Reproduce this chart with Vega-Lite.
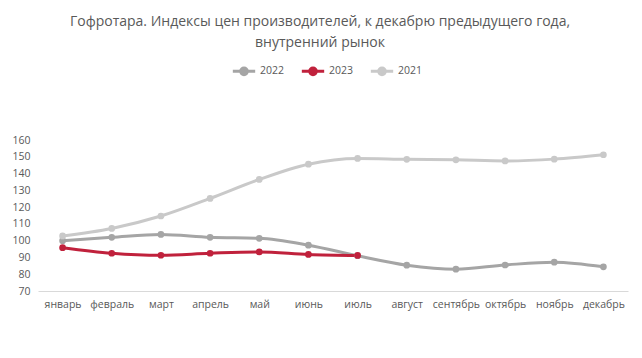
{
  "$schema": "https://vega.github.io/schema/vega-lite/v6.json",
  "width": 590,
  "height": 151,
  "autosize": {"type": "none"},
  "padding": {"left": 38, "top": 140, "right": 14, "bottom": 67},
  "background": "white",
  "config": {"view": {"stroke": null}},
  "title": {
    "text": ["Гофротара.  Индексы цен производителей, к декабрю предыдущего года,", "внутренний рынок"],
    "anchor": "middle",
    "frame": "group",
    "dx": -13,
    "offset": 8,
    "font": "Open Sans",
    "fontSize": 14,
    "fontWeight": "normal",
    "color": "#595959",
    "lineHeight": 21
  },
  "data": {
    "values": [
      {"month": "январь", "year": "2022", "value": 100.0},
      {"month": "февраль", "year": "2022", "value": 102.0},
      {"month": "март", "year": "2022", "value": 103.7},
      {"month": "апрель", "year": "2022", "value": 102.0},
      {"month": "май", "year": "2022", "value": 101.4},
      {"month": "июнь", "year": "2022", "value": 97.3},
      {"month": "июль", "year": "2022", "value": 91.0},
      {"month": "август", "year": "2022", "value": 85.4},
      {"month": "сентябрь", "year": "2022", "value": 83.0},
      {"month": "октябрь", "year": "2022", "value": 85.5},
      {"month": "ноябрь", "year": "2022", "value": 87.2},
      {"month": "декабрь", "year": "2022", "value": 84.4},
      {"month": "январь", "year": "2021", "value": 102.8},
      {"month": "февраль", "year": "2021", "value": 107.3},
      {"month": "март", "year": "2021", "value": 114.7},
      {"month": "апрель", "year": "2021", "value": 125.2},
      {"month": "май", "year": "2021", "value": 136.5},
      {"month": "июнь", "year": "2021", "value": 145.6},
      {"month": "июль", "year": "2021", "value": 149.0},
      {"month": "август", "year": "2021", "value": 148.5},
      {"month": "сентябрь", "year": "2021", "value": 148.2},
      {"month": "октябрь", "year": "2021", "value": 147.5},
      {"month": "ноябрь", "year": "2021", "value": 148.6},
      {"month": "декабрь", "year": "2021", "value": 151.2},
      {"month": "январь", "year": "2023", "value": 95.8},
      {"month": "февраль", "year": "2023", "value": 92.5},
      {"month": "март", "year": "2023", "value": 91.3},
      {"month": "апрель", "year": "2023", "value": 92.5},
      {"month": "май", "year": "2023", "value": 93.3},
      {"month": "июнь", "year": "2023", "value": 91.8},
      {"month": "июль", "year": "2023", "value": 91.2}
    ]
  },
  "mark": {"type": "line", "interpolate": "monotone", "strokeWidth": 3, "point": {"size": 45, "filled": true, "opacity": 1}},
  "encoding": {
    "x": {
      "field": "month",
      "type": "ordinal",
      "sort": ["январь", "февраль", "март", "апрель", "май", "июнь", "июль", "август", "сентябрь", "октябрь", "ноябрь", "декабрь"],
      "scale": {"type": "point", "padding": 0.5},
      "axis": {
        "title": null,
        "labelAngle": 0,
        "ticks": false,
        "domainColor": "#d9d9d9",
        "domainWidth": 1,
        "labelPadding": 8,
        "labelFont": "Open Sans",
        "labelFontSize": 10.5,
        "labelColor": "#595959",
        "grid": false
      }
    },
    "y": {
      "field": "value",
      "type": "quantitative",
      "scale": {"domain": [70, 160], "nice": false, "zero": false},
      "axis": {
        "title": null,
        "values": [70, 80, 90, 100, 110, 120, 130, 140, 150, 160],
        "ticks": false,
        "domain": false,
        "grid": false,
        "labelPadding": 8,
        "labelFont": "Open Sans",
        "labelFontSize": 10.5,
        "labelColor": "#595959"
      }
    },
    "color": {
      "field": "year",
      "type": "nominal",
      "scale": {"domain": ["2022", "2023", "2021"], "range": ["#a5a5a5", "#c0213c", "#c9c9c9"]},
      "legend": {
        "title": null,
        "orient": "none",
        "direction": "horizontal",
        "legendX": 193,
        "legendY": -82,
        "symbolType": "M-1,0L1,0M-0.3,0A0.3,0.3 0 1,1 0.3,0A0.3,0.3 0 1,1 -0.3,0Z",
        "symbolSize": 500,
        "symbolStrokeWidth": 3,
        "symbolFillColor": null,
        "labelFont": "Open Sans",
        "labelFontSize": 10.5,
        "labelColor": "#595959",
        "columnPadding": 10,
        "symbolOffset": 0,
        "labelOffset": 3
      }
    }
  }
}
